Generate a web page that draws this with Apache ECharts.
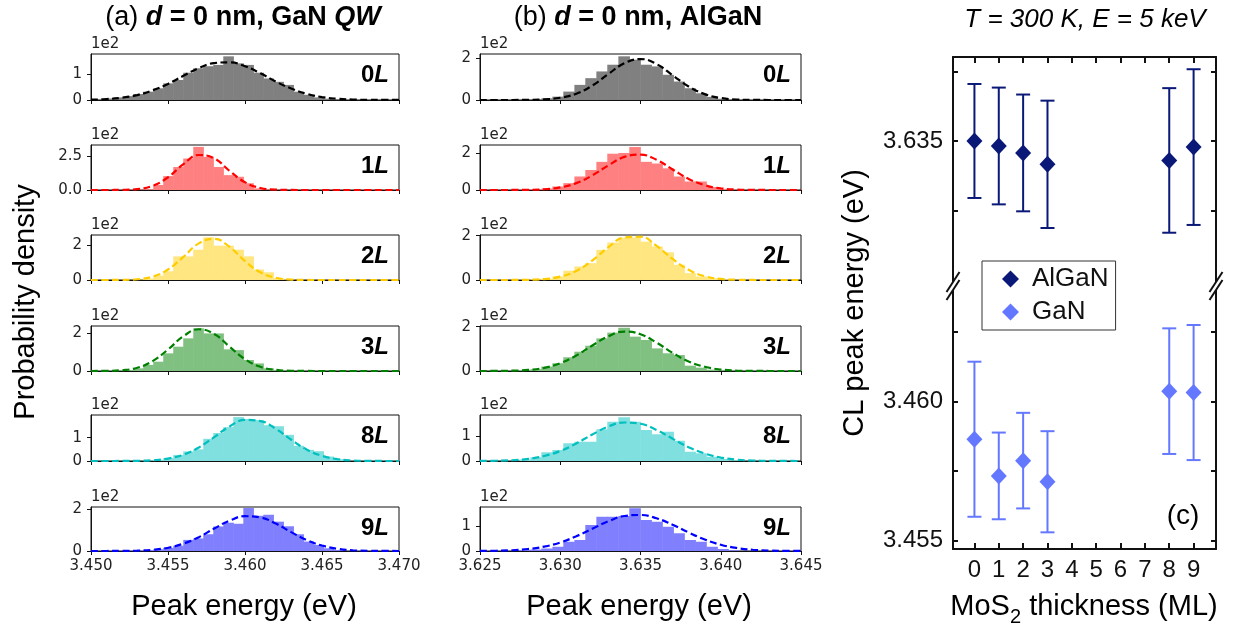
<!DOCTYPE html>
<html><head><meta charset="utf-8">
<script src="https://cdn.jsdelivr.net/npm/echarts@6.0.0/dist/echarts.min.js"></script>
<style>html,body{margin:0;padding:0;background:#fff}#main{width:1234px;height:629px}</style>
</head><body><div id="main"></div>
<script>
// ================= DATA =================
const layers = ['0','1','2','3','8','9'];

// Panel (a) GaN QW histograms (probability density, x1e2)
const binLeftA = [3.45014,3.45079,3.45144,3.45209,3.45274,3.45339,3.45404,3.45469,3.45534,3.45599,3.45664,3.45729,3.45794,3.45859,3.45924,3.45989,3.46054,3.46119,3.46184,3.46249,3.46314,3.46379,3.46444,3.46509,3.46574];
const binWidthA = 0.00065;
const histA0 = [0.04,0.06,0.1,0.15,0.23,0.32,0.45,0.64,0.77,1.05,1.22,1.3,1.35,1.68,1.41,1.35,1.05,0.83,0.7,0.58,0.32,0.2,0.1,0.05,0.03];
const histA1 = [0,0,0,0.01,0.02,0.05,0.37,1.03,1.7,2.33,3.19,2.45,1.7,1.1,0.98,0.5,0.12,0.03,0.01,0,0,0,0,0,0];
const histA2 = [0,0,0,0,0.02,0.08,0.25,0.5,1.35,1.35,1.73,2.44,1.96,1.96,1.73,1.35,0.6,0.44,0.1,0.03,0,0,0,0,0];
const histA3 = [0,0.01,0.03,0.05,0.14,0.32,0.49,0.93,1.28,1.72,2.25,1.98,1.98,1.14,1.1,0.58,0.4,0.14,0.05,0.02,0,0,0,0,0];
const histA8 = [0,0,0,0,0,0.02,0.05,0.12,0.26,0.41,0.5,0.95,1.2,1.45,1.88,1.8,1.75,1.53,1.49,1.12,0.65,0.48,0.42,0.19,0.08];
const histA9 = [0,0,0,0.01,0.02,0.04,0.08,0.15,0.25,0.53,0.6,0.8,1.17,1.35,1.3,2.05,1.68,1.73,1.4,1.18,0.8,0.45,0.29,0.13,0.05];

// Panel (b) AlGaN histograms
const binLeftB = [3.62745,3.62814,3.62882,3.62951,3.63019,3.63088,3.63156,3.63225,3.63293,3.63362,3.63430,3.63499,3.63567,3.63636,3.63704,3.63773,3.63841,3.63910,3.63978,3.64047];
const binWidthB = 0.000685;
const histB0 = [0.01,0.03,0.08,0.16,0.4,0.72,1.04,1.36,1.68,2.08,1.92,1.68,1.6,1.2,0.88,0.56,0.32,0.15,0.06,0.03];
const histB1 = [0.02,0.03,0.08,0.19,0.37,0.73,1.08,1.52,1.96,2.0,2.32,1.52,1.43,1.17,0.73,0.46,0.46,0.16,0.06,0.02];
const histB2 = [0.01,0.03,0.06,0.16,0.42,0.61,0.76,1.36,1.69,1.91,1.91,1.73,1.51,1.25,0.69,0.31,0.16,0.08,0.03,0.01];
const histB3 = [0.04,0.08,0.2,0.35,0.62,0.87,1.14,1.47,1.73,1.95,1.55,1.4,1.02,0.8,0.72,0.24,0.15,0.06,0.03,0.01];
const histB8 = [0.06,0.15,0.35,0.44,0.71,0.77,0.77,1.27,1.57,1.75,1.57,1.24,1.07,1.17,0.81,0.37,0.31,0.17,0.08,0.03];
const histB9 = [0.04,0.06,0.1,0.17,0.37,0.44,1.04,1.37,1.37,1.4,1.71,1.24,1.17,0.97,0.71,0.44,0.37,0.17,0.08,0.03];

// Fitted curves (dashed)
const fitEnergyA = [3.450,3.451,3.452,3.453,3.454,3.455,3.456,3.457,3.458,3.459,3.460,3.461,3.462,3.463,3.464,3.465,3.466,3.467,3.468,3.469,3.470];
const fitA0 = [0.012,0.035,0.087,0.19,0.37,0.62,0.93,1.23,1.42,1.45,1.30,1.03,0.71,0.44,0.24,0.11,0.047,0.017,0.006,0.002,0.001];
const fitA1 = [0,0.001,0.01,0.067,0.31,0.94,1.91,2.59,2.34,1.41,0.57,0.15,0.027,0.003,0,0,0,0,0,0,0];
const fitA2 = [0,0.001,0.007,0.044,0.19,0.60,1.32,2.09,2.35,1.89,1.08,0.44,0.13,0.027,0.004,0,0,0,0,0,0];
const fitA3 = [0.001,0.008,0.043,0.17,0.52,1.13,1.83,2.2,1.95,1.28,0.62,0.22,0.059,0.012,0.002,0,0,0,0,0,0];
const fitA8 = [0,0,0.002,0.009,0.033,0.105,0.27,0.58,1.02,1.48,1.76,1.71,1.38,0.91,0.49,0.22,0.081,0.024,0.006,0.001,0];
const fitA9 = [0,0.001,0.005,0.018,0.058,0.155,0.35,0.66,1.07,1.45,1.66,1.60,1.31,0.90,0.52,0.26,0.107,0.037,0.011,0.003,0.001];

const fitEnergyB = [3.625,3.626,3.627,3.628,3.629,3.630,3.631,3.632,3.633,3.634,3.635,3.636,3.637,3.638,3.639,3.640,3.641,3.642,3.643,3.644,3.645];
const fitB0 = [0,0,0.001,0.006,0.029,0.106,0.30,0.69,1.24,1.75,1.95,1.71,1.18,0.64,0.28,0.094,0.025,0.005,0.001,0,0];
const fitB1 = [0,0,0.002,0.01,0.042,0.14,0.37,0.79,1.33,1.79,1.91,1.63,1.11,0.60,0.26,0.089,0.025,0.005,0.001,0,0];
const fitB2 = [0,0,0.0015,0.009,0.042,0.15,0.41,0.88,1.48,1.92,1.95,1.54,0.95,0.46,0.17,0.049,0.011,0.002,0,0,0];
const fitB3 = [0.0005,0.003,0.014,0.049,0.143,0.35,0.70,1.15,1.57,1.78,1.66,1.28,0.82,0.43,0.19,0.068,0.02,0.005,0.001,0,0];
const fitB8 = [0.003,0.01,0.031,0.085,0.2,0.40,0.70,1.06,1.38,1.54,1.49,1.24,0.89,0.55,0.30,0.137,0.054,0.019,0.006,0.002,0];
const fitB9 = [0.003,0.011,0.031,0.079,0.175,0.34,0.59,0.89,1.19,1.40,1.44,1.31,1.05,0.74,0.46,0.25,0.12,0.051,0.019,0.006,0.002];

// Axis ranges and tick labels of the small panels
const xTicksA = [3.450,3.455,3.460,3.465,3.470];
const xTicksB = [3.625,3.630,3.635,3.640,3.645];
const yMaxA = [1.77,3.33,2.57,2.37,1.97,2.1];
const yMaxB = [2.19,2.43,2.03,2.03,1.84,1.76];
const yTicksA = [[0,1],[0,2.5],[0,2],[0,2],[0,1],[0,2]];
const yTicksB = [[0,2],[0,2],[0,2],[0,2],[0,1],[0,1]];

// Panel (c)
const thickness = [0,1,2,3,8,9];
const thicknessTicks = [0,1,2,3,4,5,6,7,8,9];
const algaMean = [3.63500,3.63482,3.63457,3.63416,3.63430,3.63478];
const algaStd  = [0.00205,0.00210,0.00210,0.00229,0.00260,0.00280];
const ganMean  = [3.45865,3.45733,3.45788,3.45712,3.46038,3.46033];
const ganStd   = [0.00279,0.00156,0.00172,0.00182,0.00226,0.00243];
const cTicksUpper = [3.6325,3.635,3.6375];
const cLabelsUpper = [3.635];
const cTicksLower = [3.455,3.4575,3.46,3.4625];
const cLabelsLower = [3.455,3.46];

// ================= STYLE / LAYOUT =================
const fills = ['#808080','#ff8080','#ffe680','#80c080','#80dfdf','#8080ff'];
const lines = ['#000000','#ff0000','#ffcc00','#008000','#00bfbf','#0000ff'];
const rowTops = [54,145,235,326,415,507];
const rowBottoms = [100,190,280,371,461,551];
const panelA = {left:91, right:399};
const panelB = {left:480, right:801};
const SANS = 'Liberation Sans, Arial, sans-serif';
const MPL = 'DejaVu Sans, sans-serif';

const histA = [histA0,histA1,histA2,histA3,histA8,histA9];
const histB = [histB0,histB1,histB2,histB3,histB8,histB9];
const fitA = [fitA0,fitA1,fitA2,fitA3,fitA8,fitA9];
const fitB = [fitB0,fitB1,fitB2,fitB3,fitB8,fitB9];

const grids = [], xAxes = [], yAxes = [], series = [], graphics = [];

function histRender(fill){
  return function(params, api){
    const a = api.coord([api.value(0), 0]);
    const b = api.coord([api.value(1), api.value(2)]);
    return {type:'rect', shape:{x:a[0], y:b[1], width:b[0]-a[0]+0.6, height:a[1]-b[1]}, style:{fill:fill}};
  };
}

function addPanel(panel, row, xTicks, yMax, yTicks, binLeft, binW, heights, fitE, fitV, showX){
  const gi = grids.length;
  const top = rowTops[row], h = rowBottoms[row]-rowTops[row];
  grids.push({left:panel.left, top:top, width:panel.right-panel.left, height:h,
    show:true, borderColor:'#111', borderWidth:1, backgroundColor:'transparent', containLabel:false});
  xAxes.push({gridIndex:gi, type:'value', min:xTicks[0], max:xTicks[xTicks.length-1],
    axisLine:{show:true, onZero:false, lineStyle:{color:'#111', width:1}},
    axisTick:{show:true, inside:false, length:4, customValues:xTicks, lineStyle:{color:'#111', width:1}},
    axisLabel:{show:showX, customValues:xTicks, formatter:v=>Number(v).toFixed(3), fontFamily:MPL, fontSize:15, color:'#222', margin:8},
    splitLine:{show:false}});
  const dec = yTicks.some(v=>v%1!==0) ? 1 : 0;
  yAxes.push({gridIndex:gi, type:'value', min:0, max:yMax,
    axisLine:{show:true, lineStyle:{color:'#111', width:1}},
    axisTick:{show:true, inside:false, length:4, customValues:yTicks, lineStyle:{color:'#111', width:1}},
    axisLabel:{show:true, customValues:yTicks, formatter:v=>Number(v).toFixed(dec), fontFamily:MPL, fontSize:15, color:'#222', margin:9},
    splitLine:{show:false}});
  series.push({type:'custom', xAxisIndex:gi, yAxisIndex:gi, silent:true, z:1,
    renderItem: histRender(fills[row]),
    encode:{x:[0,1], y:2},
    data: heights.map((v,i)=>[binLeft[i], binLeft[i]+binW, v])});
  series.push({type:'line', xAxisIndex:gi, yAxisIndex:gi, silent:true, z:3, showSymbol:false, smooth:0.45, clip:true,
    lineStyle:{color:lines[row], width:2.2, type:[7,3.5]},
    data: fitE.map((e,i)=>[e, fitV[i]])});
  graphics.push({type:'text', x:panel.left, y:top-2, silent:true,
    style:{text:'1e2', fontFamily:MPL, fontSize:15, fill:'#222', align:'left', verticalAlign:'bottom', textAlign:'left', textVerticalAlign:'bottom'}});
  graphics.push({type:'text', x:panel.right-10, y:top+21, silent:true,
    style:{text:'{b|'+layers[row]+'}{bi|L}', align:'right', verticalAlign:'middle', textAlign:'right', textVerticalAlign:'middle',
      rich:{b:{fontFamily:SANS, fontSize:24, fontWeight:'bold', fill:'#000', color:'#000'},
            bi:{fontFamily:SANS, fontSize:24, fontWeight:'bold', fontStyle:'italic', fill:'#000', color:'#000'}}}});
}

for (let r=0;r<6;r++){
  addPanel(panelA, r, xTicksA, yMaxA[r], yTicksA[r], binLeftA, binWidthA, histA[r], fitEnergyA, fitA[r], r===5);
}
for (let r=0;r<6;r++){
  addPanel(panelB, r, xTicksB, yMaxB[r], yTicksB[r], binLeftB, binWidthB, histB[r], fitEnergyB, fitB[r], r===5);
}

// ---- panel (c): broken y axis as two stacked grids ----
const C = {left:953, right:1216, top:57, brk:285, bottom:549};
const cUp = grids.length;
grids.push({left:C.left, top:C.top, width:C.right-C.left, height:C.brk-C.top, containLabel:false});
const cLo = grids.length;
grids.push({left:C.left, top:C.brk, width:C.right-C.left, height:C.bottom-C.brk, containLabel:false});
const frame = {color:'#111', width:2};
const xCommon = {type:'value', min:-0.88, max:9.92, splitLine:{show:false}};
xAxes.push(Object.assign({gridIndex:cUp, position:'top',
  axisLine:{show:true, onZero:false, lineStyle:frame},
  axisTick:{show:true, inside:true, length:6, customValues:thicknessTicks, lineStyle:frame},
  axisLabel:{show:false}}, xCommon));
xAxes.push(Object.assign({gridIndex:cLo, position:'bottom',
  axisLine:{show:true, onZero:false, lineStyle:frame},
  axisTick:{show:true, inside:true, length:6, customValues:thicknessTicks, lineStyle:frame},
  axisLabel:{show:true, customValues:thicknessTicks, formatter:v=>String(v), fontFamily:SANS, fontSize:24, color:'#111', margin:9}}, xCommon));
function cY(gi, min, max, ticks, labels, pos){
  return {gridIndex:gi, type:'value', min:min, max:max, position:pos, splitLine:{show:false},
    axisLine:{show:true, onZero:false, lineStyle:frame},
    axisTick:{show:true, inside:true, length:5, customValues:ticks, lineStyle:frame},
    axisLabel: pos==='left' ? {show:true, customValues:labels, formatter:v=>Number(v).toFixed(3), fontFamily:SANS, fontSize:24, color:'#111', margin:10} : {show:false}};
}
const yUpL = yAxes.length; yAxes.push(cY(cUp, 3.62982, 3.63802, cTicksUpper, cLabelsUpper, 'left'));
const yLoL = yAxes.length; yAxes.push(cY(cLo, 3.4547, 3.4642, cTicksLower, cLabelsLower, 'left'));
yAxes.push(cY(cUp, 3.62982, 3.63802, cTicksUpper, cLabelsUpper, 'right'));
yAxes.push(cY(cLo, 3.4547, 3.4642, cTicksLower, cLabelsLower, 'right'));

const algaColor = '#0a1878', ganColor = '#6478ff';
function errRender(color){
  return function(p, api){
    const lo = api.coord([api.value(0), api.value(1)]);
    const hi = api.coord([api.value(0), api.value(2)]);
    const w = 7, st = {stroke:color, lineWidth:2};
    return {type:'group', children:[
      {type:'line', shape:{x1:lo[0], y1:lo[1], x2:hi[0], y2:hi[1]}, style:st},
      {type:'line', shape:{x1:lo[0]-w, y1:lo[1], x2:lo[0]+w, y2:lo[1]}, style:st},
      {type:'line', shape:{x1:hi[0]-w, y1:hi[1], x2:hi[0]+w, y2:hi[1]}, style:st}]};
  };
}
series.push({type:'custom', name:'AlGaN err', xAxisIndex:12, yAxisIndex:yUpL, silent:true, z:2,
  renderItem: errRender(algaColor), encode:{x:0, y:[1,2]},
  data: thickness.map((t,i)=>[t, algaMean[i]-algaStd[i], algaMean[i]+algaStd[i]])});
series.push({type:'custom', name:'GaN err', xAxisIndex:13, yAxisIndex:yLoL, silent:true, z:2,
  renderItem: errRender(ganColor), encode:{x:0, y:[1,2]},
  data: thickness.map((t,i)=>[t, ganMean[i]-ganStd[i], ganMean[i]+ganStd[i]])});
series.push({type:'scatter', name:'AlGaN', xAxisIndex:12, yAxisIndex:yUpL, z:4, symbol:'diamond', symbolSize:[16,17],
  itemStyle:{color:algaColor, opacity:1}, data: thickness.map((t,i)=>[t, algaMean[i]])});
series.push({type:'scatter', name:'GaN', xAxisIndex:13, yAxisIndex:yLoL, z:4, symbol:'diamond', symbolSize:[16,17],
  itemStyle:{color:ganColor, opacity:1}, data: thickness.map((t,i)=>[t, ganMean[i]])});

// break marks on the panel (c) y axes
[C.left, C.right].forEach(function(x){
  const cy = C.brk + 1;
  graphics.push({type:'polygon', silent:true, z:50, shape:{points:[[x-6.5,cy+6],[x+6.5,cy-14],[x+6.5,cy-6],[x-6.5,cy+14]]}, style:{fill:'#fff'}});
  [-4,4].forEach(function(o){
    graphics.push({type:'line', silent:true, z:51, shape:{x1:x-6.5, y1:cy+o+10, x2:x+6.5, y2:cy+o-10}, style:{stroke:'#111', lineWidth:2}});
  });
});

// ---- titles and axis names ----
function txt(x, y, text, size, extra){
  return {type:'text', x:x, y:y, silent:true, z:60,
    style:Object.assign({text:text, fontFamily:SANS, fontSize:size, fill:'#000', align:'center', verticalAlign:'middle', textAlign:'center', textVerticalAlign:'middle'}, extra||{})};
}
const richT = {
  n:{fontFamily:SANS, fontSize:27, fill:'#000', color:'#000'},
  b:{fontFamily:SANS, fontSize:27, fontWeight:'bold', fill:'#000', color:'#000'},
  bi:{fontFamily:SANS, fontSize:27, fontWeight:'bold', fontStyle:'italic', fill:'#000', color:'#000'}
};
graphics.push(txt(243, 18, '{n|(a) }{bi|d}{b| = 0 nm, GaN }{bi|QW}', 27, {rich:richT}));
graphics.push(txt(638, 18, '{n|(b) }{bi|d}{b| = 0 nm, AlGaN}', 27, {rich:richT}));
graphics.push(txt(1085, 20, 'T = 300 K, E = 5 keV', 26, {fontStyle:'italic'}));
graphics.push(txt(244, 607, 'Peak energy (eV)', 29));
graphics.push(txt(639, 607, 'Peak energy (eV)', 29));
const pd = txt(26, 302, 'Probability density', 29); pd.rotation = Math.PI/2; graphics.push(pd);
const cl = txt(855, 303, 'CL peak energy (eV)', 29); cl.rotation = Math.PI/2; graphics.push(cl);
graphics.push(txt(1084, 607, '{n|MoS}{s|2}{n| thickness (ML)}', 29, {rich:{
  n:{fontFamily:SANS, fontSize:29, lineHeight:40, fill:'#000', color:'#000'},
  s:{fontFamily:SANS, fontSize:20, lineHeight:20, verticalAlign:'bottom', fill:'#000', color:'#000'}}}));
graphics.push(txt(1183, 516, '(c)', 28));

const option = {
  animation:false,
  backgroundColor:'#fff',
  grid: grids, xAxis: xAxes, yAxis: yAxes, series: series,
  legend:{data:['AlGaN','GaN'], orient:'vertical', left:982, top:261, itemWidth:17, itemHeight:17, itemGap:7,
    padding:[5,7,5,20], borderColor:'#333', borderWidth:1, backgroundColor:'#fff', icon:'diamond', selectedMode:false, z:20,
    textStyle:{fontFamily:SANS, fontSize:26, lineHeight:26, color:'#111', padding:[0,0,0,8]}},
  graphic: graphics
};
const chart = echarts.init(document.getElementById('main'), null, {renderer:'canvas'});
chart.setOption(option);
</script></body></html>
